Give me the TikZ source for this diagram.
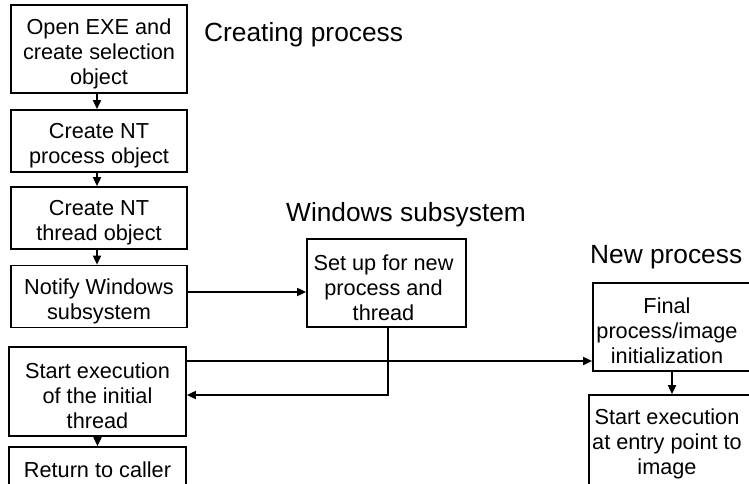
\documentclass[tikz,border=0pt]{standalone}
\usepackage{fontspec}
\setmainfont{Liberation Sans}
\usetikzlibrary{arrows.meta}
\begin{document}
\begin{tikzpicture}[x=1pt,y=-1pt,
  box/.style={draw, line width=1.7pt, inner sep=0pt},
  boxlabel/.style={align=center, inner sep=0pt, font=\fontsize{21.7}{25}\selectfont},
  txt/.style={label={[boxlabel, yshift=-5pt]center:#1}},
  title/.style={anchor=west, inner sep=0pt, font=\fontsize{26.3}{30}\selectfont},
  conn/.style={line width=1.7pt, -{Triangle[length=9pt,width=8pt]}}]
\useasboundingbox (0,0) rectangle (749,483);
\clip (0,0) rectangle (749,483);
% creating process column
\node[box, minimum width=176pt, minimum height=88pt, txt={Open EXE and\\create selection\\object}] (b1) at (99,49) {};
\node[box, minimum width=176pt, minimum height=62pt, txt={Create NT\\process object}] (b2) at (99,141) {};
\node[box, minimum width=176pt, minimum height=62pt, txt={Create NT\\thread object}] (b3) at (99,218) {};
\node[box, minimum width=176pt, minimum height=62pt, txt={Notify Windows\\subsystem}] (b4) at (99,296.5) {};
\node[box, minimum width=177pt, minimum height=89pt,
  label={[boxlabel, yshift=-4pt]center:Start execution\\of the initial\\thread}] (b5) at (97.5,391.5) {};
\node[box, minimum width=177pt, minimum height=46pt,
  label={[boxlabel]center:Return to caller}] (b6) at (97.5,470) {};
% windows subsystem
\node[box, minimum width=159pt, minimum height=88pt,
  label={[boxlabel, xshift=-3pt, yshift=-5pt]center:Set up for new\\process and\\thread}] (w) at (386.5,283) {};
% new process
\node[box, minimum width=177pt, minimum height=88pt,
  label={[boxlabel, xshift=-14.5pt, yshift=-4pt]center:Final\\process/image\\initialization}] (n1) at (681.5,327) {};
\node[box, minimum width=181pt, minimum height=94pt,
  label={[boxlabel, xshift=-12.5pt, yshift=-2pt]center:Start execution\\at entry point to\\image}] (n2) at (679.5,442) {};
% titles
\node[title] (t1) at (204,35) {Creating process};
\node[title] (t2) at (286,215) {Windows subsystem};
\node[title] (t3) at (590,257) {New process};
% connectors
\draw[conn] ([xshift=-2pt]b1.south) -- ([xshift=-2pt]b2.north);
\draw[conn] ([xshift=-2pt]b2.south) -- ([xshift=-2pt]b3.north);
\draw[conn] ([xshift=-2pt]b3.south) -- ([xshift=-2pt]b4.north);
\draw[conn] ([yshift=4.5pt]b4.east) -- ([yshift=4.5pt]b4.east -| w.west);
\draw[conn] ([yshift=30.5pt]b5.east) -- ([yshift=30.5pt]b5.east -| n1.west);
\draw[conn] ([xshift=1.5pt]w.south) |- ([yshift=-3.5pt]b5.east);
\draw[conn] (b5.south) -- (b6.north);
\draw[conn] ([xshift=-9.5pt]n1.south) -- ([xshift=-9.5pt]n1.south |- n2.north);
\end{tikzpicture}
\end{document}
